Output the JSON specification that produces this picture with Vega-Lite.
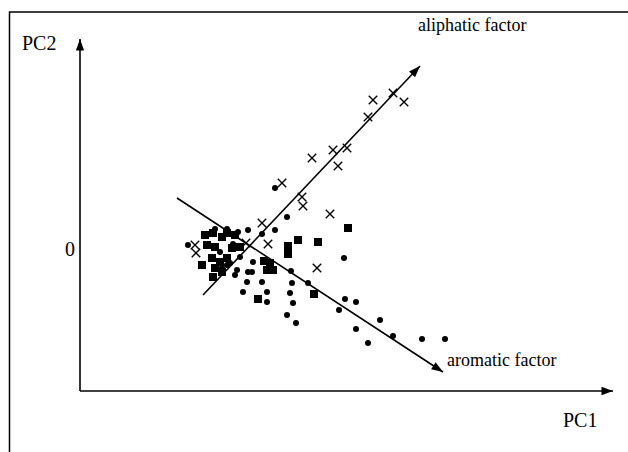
{
  "$schema": "https://vega.github.io/schema/vega-lite/v6.json",
  "width": 628,
  "height": 452,
  "autosize": {"type": "none"},
  "padding": 0,
  "background": "white",
  "config": {"view": {"stroke": null}},
  "datasets": {
    "pts": [
      {"pc1": 29.3, "pc2": 15.0, "type": "x"},
      {"pc1": 31.3, "pc2": 15.7, "type": "x"},
      {"pc1": 32.4, "pc2": 14.8, "type": "x"},
      {"pc1": 28.8, "pc2": 13.3, "type": "x"},
      {"pc1": 25.3, "pc2": 10.0, "type": "x"},
      {"pc1": 26.7, "pc2": 10.2, "type": "x"},
      {"pc1": 25.8, "pc2": 8.4, "type": "x"},
      {"pc1": 23.2, "pc2": 9.2, "type": "x"},
      {"pc1": 20.2, "pc2": 6.7, "type": "x"},
      {"pc1": 22.2, "pc2": 5.3, "type": "x"},
      {"pc1": 22.3, "pc2": 4.4, "type": "x"},
      {"pc1": 25.0, "pc2": 3.6, "type": "x"},
      {"pc1": 18.2, "pc2": 2.7, "type": "x"},
      {"pc1": 18.8, "pc2": 0.6, "type": "x"},
      {"pc1": 23.7, "pc2": -1.8, "type": "x"},
      {"pc1": 11.5, "pc2": 0.5, "type": "x"},
      {"pc1": 11.6, "pc2": -0.3, "type": "x"},
      {"pc1": 16.6, "pc2": 0.7, "type": "x"},
      {"pc1": 26.8, "pc2": 2.2, "type": "square"},
      {"pc1": 21.8, "pc2": 1.0, "type": "square"},
      {"pc1": 23.8, "pc2": 0.8, "type": "square"},
      {"pc1": 20.8, "pc2": 0.4, "type": "square"},
      {"pc1": 20.8, "pc2": -0.4, "type": "square"},
      {"pc1": 17.8, "pc2": -4.9, "type": "square"},
      {"pc1": 23.4, "pc2": -4.4, "type": "square"},
      {"pc1": 12.5, "pc2": 1.5, "type": "square"},
      {"pc1": 13.3, "pc2": 1.7, "type": "square"},
      {"pc1": 14.2, "pc2": 1.3, "type": "square"},
      {"pc1": 14.7, "pc2": 1.7, "type": "square"},
      {"pc1": 15.5, "pc2": 1.5, "type": "square"},
      {"pc1": 12.7, "pc2": 0.5, "type": "square"},
      {"pc1": 13.5, "pc2": 0.3, "type": "square"},
      {"pc1": 15.2, "pc2": 0.2, "type": "square"},
      {"pc1": 16.0, "pc2": 0.3, "type": "square"},
      {"pc1": 12.2, "pc2": -1.5, "type": "square"},
      {"pc1": 13.2, "pc2": -0.8, "type": "square"},
      {"pc1": 14.0, "pc2": -1.2, "type": "square"},
      {"pc1": 14.7, "pc2": -0.8, "type": "square"},
      {"pc1": 13.5, "pc2": -1.8, "type": "square"},
      {"pc1": 13.3, "pc2": -2.7, "type": "square"},
      {"pc1": 14.2, "pc2": -2.2, "type": "square"},
      {"pc1": 18.4, "pc2": -1.1, "type": "square"},
      {"pc1": 19.0, "pc2": -1.3, "type": "square"},
      {"pc1": 18.7, "pc2": -2.0, "type": "square"},
      {"pc1": 19.3, "pc2": -2.0, "type": "square"},
      {"pc1": 19.5, "pc2": 6.2, "type": "dot"},
      {"pc1": 20.7, "pc2": 3.3, "type": "dot"},
      {"pc1": 19.5, "pc2": 2.0, "type": "dot"},
      {"pc1": 18.2, "pc2": 1.6, "type": "dot"},
      {"pc1": 16.8, "pc2": 2.0, "type": "dot"},
      {"pc1": 15.8, "pc2": 1.8, "type": "dot"},
      {"pc1": 13.5, "pc2": 2.1, "type": "dot"},
      {"pc1": 14.7, "pc2": 2.1, "type": "dot"},
      {"pc1": 10.8, "pc2": 0.5, "type": "dot"},
      {"pc1": 26.4, "pc2": -0.8, "type": "dot"},
      {"pc1": 21.1, "pc2": -2.1, "type": "dot"},
      {"pc1": 22.8, "pc2": -3.3, "type": "dot"},
      {"pc1": 21.2, "pc2": -3.3, "type": "dot"},
      {"pc1": 21.0, "pc2": -4.3, "type": "dot"},
      {"pc1": 21.3, "pc2": -5.3, "type": "dot"},
      {"pc1": 20.7, "pc2": -6.5, "type": "dot"},
      {"pc1": 21.6, "pc2": -7.3, "type": "dot"},
      {"pc1": 26.5, "pc2": -4.9, "type": "dot"},
      {"pc1": 27.6, "pc2": -5.2, "type": "dot"},
      {"pc1": 25.9, "pc2": -6.0, "type": "dot"},
      {"pc1": 30.0, "pc2": -7.0, "type": "dot"},
      {"pc1": 27.6, "pc2": -7.9, "type": "dot"},
      {"pc1": 31.3, "pc2": -8.6, "type": "dot"},
      {"pc1": 28.8, "pc2": -9.3, "type": "dot"},
      {"pc1": 34.2, "pc2": -8.9, "type": "dot"},
      {"pc1": 36.5, "pc2": -8.9, "type": "dot"},
      {"pc1": 18.2, "pc2": -3.2, "type": "dot"},
      {"pc1": 18.7, "pc2": -4.2, "type": "dot"},
      {"pc1": 18.7, "pc2": -5.2, "type": "dot"},
      {"pc1": 17.3, "pc2": -1.2, "type": "dot"},
      {"pc1": 15.0, "pc2": -1.3, "type": "dot"},
      {"pc1": 15.7, "pc2": -2.0, "type": "dot"},
      {"pc1": 16.8, "pc2": -2.2, "type": "dot"},
      {"pc1": 16.0, "pc2": -0.7, "type": "dot"},
      {"pc1": 16.7, "pc2": -3.2, "type": "dot"},
      {"pc1": 16.3, "pc2": -4.2, "type": "dot"},
      {"pc1": 14.2, "pc2": -1.8, "type": "dot"},
      {"pc1": 15.5, "pc2": -2.5, "type": "dot"},
      {"pc1": 17.2, "pc2": -2.2, "type": "dot"},
      {"pc1": 15.3, "pc2": 0.6, "type": "dot"},
      {"pc1": 14.0, "pc2": -0.2, "type": "dot"},
      {"pc1": 14.7, "pc2": -1.5, "type": "dot"}
    ],
    "segments": [
      {"name": "PC2 axis", "x1": 0, "y1": -14.1, "x2": 0, "y2": 21.1},
      {"name": "PC1 axis", "x1": 0, "y1": -14.1, "x2": 53.3, "y2": -14.1},
      {"name": "aliphatic", "x1": 12.3, "y1": -4.5, "x2": 34.0, "y2": 18.4},
      {"name": "aromatic", "x1": 9.7, "y1": 5.2, "x2": 36.3, "y2": -12.2}
    ],
    "heads": [
      {"pc1": 0, "pc2": 21.1, "angle": 0},
      {"pc1": 53.3, "pc2": -14.1, "angle": 90},
      {"pc1": 34.0, "pc2": 18.4, "angle": 43.5},
      {"pc1": 36.3, "pc2": -12.2, "angle": 123.2}
    ],
    "axislabels": [
      {"pc1": -5.8, "pc2": 20.0, "text": "PC2"},
      {"pc1": -1.5, "pc2": -0.6, "text": "0"},
      {"pc1": 48.3, "pc2": -17.7, "text": "PC1"}
    ],
    "factorlabels": [
      {"pc1": 33.8, "pc2": 21.9, "text": "aliphatic factor"},
      {"pc1": 36.7, "pc2": -11.6, "text": "aromatic factor"}
    ],
    "frame": [
      {"l": -7.05, "t": 23.8, "r": 70, "b": -40}
    ]
  },
  "layer": [
    {
      "data": {"name": "frame"},
      "mark": {"type": "rect", "fill": null, "stroke": "black", "strokeWidth": 1.5, "clip": true},
      "encoding": {
        "x": {"field": "l", "type": "quantitative", "scale": {"domain": [-8, 54.8], "nice": false, "zero": false}, "axis": null},
        "x2": {"field": "r"},
        "y": {"field": "t", "type": "quantitative", "scale": {"domain": [-20.2, 25], "nice": false, "zero": false}, "axis": null},
        "y2": {"field": "b"}
      }
    },
    {
      "data": {"name": "segments"},
      "mark": {"type": "rule", "color": "black", "strokeWidth": 1.6},
      "encoding": {
        "x": {"field": "x1", "type": "quantitative"},
        "x2": {"field": "x2"},
        "y": {"field": "y1", "type": "quantitative"},
        "y2": {"field": "y2"}
      }
    },
    {
      "data": {"name": "heads"},
      "mark": {"type": "point", "shape": "M0,0L-0.36,1L0.36,1Z", "filled": true, "color": "black", "opacity": 1, "size": 529},
      "encoding": {
        "x": {"field": "pc1", "type": "quantitative"},
        "y": {"field": "pc2", "type": "quantitative"},
        "angle": {"field": "angle", "type": "quantitative", "scale": null}
      }
    },
    {
      "data": {"name": "pts"},
      "transform": [{"filter": "datum.type === 'dot'"}],
      "mark": {"type": "point", "shape": "circle", "filled": true, "color": "black", "opacity": 1, "size": 36},
      "encoding": {
        "x": {"field": "pc1", "type": "quantitative"},
        "y": {"field": "pc2", "type": "quantitative"}
      }
    },
    {
      "data": {"name": "pts"},
      "transform": [{"filter": "datum.type === 'square'"}],
      "mark": {"type": "point", "shape": "square", "filled": true, "color": "black", "opacity": 1, "size": 64},
      "encoding": {
        "x": {"field": "pc1", "type": "quantitative"},
        "y": {"field": "pc2", "type": "quantitative"}
      }
    },
    {
      "data": {"name": "pts"},
      "transform": [{"filter": "datum.type === 'x'"}],
      "mark": {"type": "point", "shape": "M-1,-1L1,1M-1,1L1,-1", "filled": false, "stroke": "black", "strokeWidth": 1.4, "opacity": 1, "size": 72},
      "encoding": {
        "x": {"field": "pc1", "type": "quantitative"},
        "y": {"field": "pc2", "type": "quantitative"}
      }
    },
    {
      "data": {"name": "axislabels"},
      "mark": {"type": "text", "font": "Liberation Serif", "fontSize": 20, "color": "black", "align": "left", "baseline": "alphabetic"},
      "encoding": {
        "x": {"field": "pc1", "type": "quantitative"},
        "y": {"field": "pc2", "type": "quantitative"},
        "text": {"field": "text"}
      }
    },
    {
      "data": {"name": "factorlabels"},
      "mark": {"type": "text", "font": "Liberation Serif", "fontSize": 18, "color": "black", "align": "left", "baseline": "alphabetic"},
      "encoding": {
        "x": {"field": "pc1", "type": "quantitative"},
        "y": {"field": "pc2", "type": "quantitative"},
        "text": {"field": "text"}
      }
    }
  ]
}
